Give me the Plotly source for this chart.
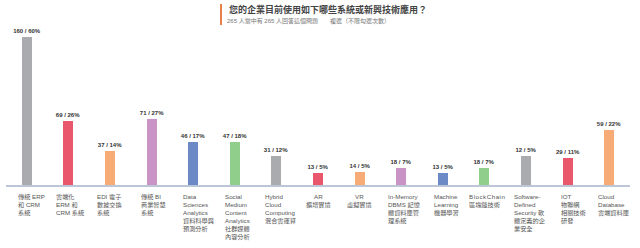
import plotly.graph_objects as go

categories = ["ERP/CRM", "Cloud ERM", "EDI", "BI", "Data Sciences", "Social Media",
              "Hybrid Cloud", "AR", "VR", "In-Memory", "Machine Learning", "BlockChain",
              "Software-Defined", "IOT", "Cloud Database"]
tick_labels = [
    "傳統 ERP<br>和 CRM<br>系統",
    "雲端化<br>ERM 和<br>CRM 系統",
    "EDI 電子<br>數據交換<br>系統",
    "傳統 BI<br>商業智慧<br>系統",
    "Data<br>Sciences<br>Analytics<br>資料科學與<br>預測分析",
    "Social<br>Medium<br>Content<br>Analytics<br>社群媒體<br>內容分析",
    "Hybrid<br>Cloud<br>Computing<br>混合雲運算",
    "AR<br>擴增實境",
    "VR<br>虛擬實境",
    "In-Memory<br>DBMS 記憶<br>體資料庫管<br>理系統",
    "Machine<br>Learning<br>機器學習",
    "B\u200al\u200ao\u200ac\u200ak\u200aC\u200ah\u200aa\u200ai\u200an<br>區塊鏈技術",
    "Software-<br>Defined<br>Security 軟<br>體定義的企<br>業安全",
    "IOT<br>物聯網<br>相關技術<br>研發",
    "Cloud<br>Database<br>雲端資料庫",
]
label_shift = [-11, -14, -15, -13, -12, -12, -13, 0, 0, -15, -11, -17, -14, -9, -13]
bar_heights = [160, 69, 37, 71, 46, 47, 31, 13, 14, 18, 13, 18, 31, 29, 59]
value_labels = ["160 / 60%", "69 / 26%", "37 / 14%", "71 / 27%", "46 / 17%", "47 / 18%",
                "31 / 12%", "13 / 5%", "14 / 5%", "18 / 7%", "13 / 5%", "18 / 7%",
                "12 / 5%", "29 / 11%", "59 / 22%"]
centered = {"AR", "VR"}

palette = ["#a9abae", "#e9576c", "#f7ab76", "#c993c6", "#6b8ac6", "#8fcf8b"]
colors = [palette[i % 6] for i in range(len(categories))]

FONT = "Liberation Sans, Noto Sans CJK TC, sans-serif"

W, H = 640, 248
ML, MR, MT, MB = 6, 10, 30, 63
PW, PH = W - ML - MR, H - MT - MB


def px_x(x):
    return (x - ML) / PW


def px_y(y):
    return (H - MB - y) / PH


fig = go.Figure(go.Bar(
    x=list(range(len(categories))), y=bar_heights,
    width=0.24, marker=dict(color=colors, line=dict(width=0)),
    text=[f"<b>{t}</b>" for t in value_labels], textposition="outside",
    constraintext="none",
    textfont=dict(family=FONT, size=6, color="#333333"),
    cliponaxis=False, hoverinfo="skip",
))

for i, (cat, lab) in enumerate(zip(categories, tick_labels)):
    c = cat in centered
    fig.add_annotation(
        x=i, y=0, xref="x", yref="y", text=lab, showarrow=False,
        xanchor="center" if c else "left", yanchor="top",
        align="center" if c else "left",
        xshift=label_shift[i], yshift=-6,
        font=dict(family=FONT, size=6.2, color="#555555"),
    )

fig.add_annotation(
    x=px_x(227), y=px_y(10), xref="paper", yref="paper", showarrow=False,
    xanchor="left", yanchor="middle",
    text="<b>您的企業目前使用如下哪些系統或新興技術應用？</b>",
    font=dict(family="Noto Sans CJK TC, sans-serif", size=9, color="#444444"),
)
fig.add_annotation(
    x=px_x(225), y=px_y(20.5), xref="paper", yref="paper", showarrow=False,
    xanchor="left", yanchor="middle",
    text="265 人當中有 265 人回答這個問題　　複選（不限勾選次數）",
    font=dict(family=FONT, size=6, color="#777777"),
)
fig.add_shape(type="rect", xref="paper", yref="paper",
              x0=px_x(220), x1=px_x(222), y0=px_y(25), y1=px_y(4),
              fillcolor="#e8804a", line=dict(width=0))

fig.update_layout(
    width=W, height=H, margin=dict(l=ML, r=MR, t=MT, b=MB),
    paper_bgcolor="white", plot_bgcolor="white", showlegend=False,
    xaxis=dict(range=[-0.5, 14.5], showticklabels=False, showgrid=False, zeroline=False,
               showline=True, linecolor="#bcc6d6", linewidth=1.5, fixedrange=True),
    yaxis=dict(range=[0, 167.6], visible=False, fixedrange=True),
    bargap=0,
)

fig.write_html("out.html")
